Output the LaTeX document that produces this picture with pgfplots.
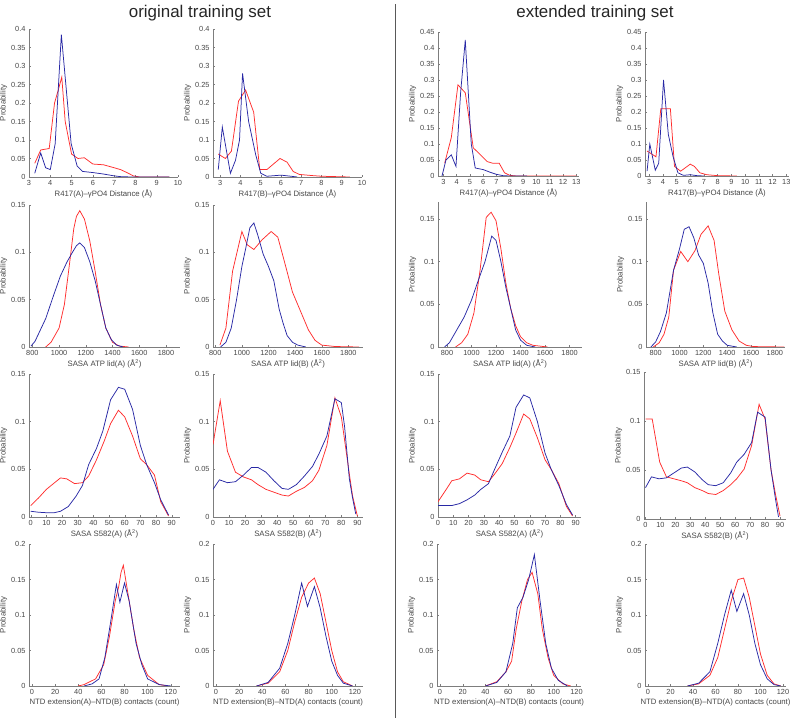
\documentclass[border=0pt]{standalone}
\usepackage{pgfplots}
\pgfplotsset{compat=1.18}
\usepackage{fontspec}
\setmainfont{Liberation Sans}
\definecolor{mblue}{RGB}{40,40,165}
\definecolor{mred}{RGB}{255,45,45}
\definecolor{axgray}{RGB}{125,125,125}
\definecolor{txtgray}{RGB}{70,70,70}
\pgfplotsset{
 panel/.style={
  scale only axis, anchor=south west,
  axis x line*=bottom, axis y line*=left,
  axis line style={-, draw=axgray, line width=0.5bp},
  tick style={draw=axgray, line width=0.4bp},
  tick align=inside, major tick length=2bp,
  ticklabel style={font=\fontsize{7.4}{8}\selectfont, text=txtgray},
  label style={font=\fontsize{7.8}{9}\selectfont, text=txtgray},
  ylabel={Probability},
  xlabel style={yshift=3bp},
  ylabel style={yshift=-3bp},
  scaled ticks=false,
  /pgf/number format/assume math mode=true,
  /pgf/number format/1000 sep={},
  yticklabel style={/pgf/number format/fixed, /pgf/number format/precision=2},
  ymin=0,
 },
 r1a/.style={panel, ymax=0.4, ytick={0,0.05,0.1,0.15,0.2,0.25,0.3,0.35,0.4}, xtick={3,...,10}, height=148bp},
 r1b/.style={panel, ymax=0.45, ytick={0,0.05,0.1,0.15,0.2,0.25,0.3,0.35,0.4,0.45}, xtick={3,...,13}, height=144bp},
 r2a/.style={panel, ymax=0.15, ytick={0,0.05,0.1,0.15}, xtick={800,1000,...,1800}, height=142bp},
 r2b/.style={panel, ymax=0.17, ytick={0,0.05,0.1,0.15}, xtick={800,1000,...,1800}, height=145bp},
 r3/.style={panel, ymax=0.15, ytick={0,0.05,0.1,0.15}, xtick={0,10,...,90}, height=143bp},
 r4/.style={panel, ymax=0.2, ytick={0,0.05,0.1,0.15,0.2}, xtick={0,20,...,120}, height=142bp},
 bl/.style={color=mblue, line width=0.75bp, no marks},
 rd/.style={color=mred, line width=0.75bp, no marks},
}
\begin{document}
\begin{tikzpicture}
\useasboundingbox (0bp,0bp) rectangle (791bp,721bp);
\node[font=\fontsize{17}{19}\selectfont, text=black!85] at (200bp,708bp) {original training set};
\node[font=\fontsize{17}{19}\selectfont, text=black!85] at (595bp,708bp) {extended training set};
\draw[color=black!65, line width=0.6bp] (395bp,3bp) -- (395bp,717bp);

% ---------- Row 1 ----------
\begin{axis}[r1a, at={(29bp,544bp)}, width=149bp, xmin=3, xmax=10, xlabel={R417(A)–γPO4 Distance (Å)}]
\addplot[rd] coordinates {(3.27,0.037)(3.55,0.073)(3.95,0.077)(4.2,0.2)(4.35,0.23)(4.54,0.27)(4.7,0.15)(5.0,0.062)(5.3,0.05)(5.6,0.052)(6.0,0.035)(6.5,0.033)(7.0,0.025)(7.3,0.02)(7.6,0.012)(7.9,0.003)(8.2,0)(9.6,0)};
\addplot[bl] coordinates {(3.27,0.01)(3.55,0.065)(3.78,0.025)(4.0,0.02)(4.23,0.09)(4.52,0.385)(4.98,0.09)(5.26,0.03)(5.52,0.015)(6.0,0.012)(6.5,0.008)(7.0,0.003)(7.3,0.001)(7.8,0)(9.6,0)};
\end{axis}
\begin{axis}[r1a, at={(213bp,544bp)}, width=149bp, xmin=2.64, xmax=10, xlabel={R417(B)–γPO4 Distance (Å)}]
\addplot[rd] coordinates {(2.9,0.062)(3.25,0.05)(3.55,0.07)(3.9,0.205)(4.25,0.235)(4.65,0.175)(4.95,0.02)(5.3,0.02)(5.95,0.05)(6.3,0.04)(6.6,0.015)(6.9,0.007)(7.5,0.004)(8.0,0.002)(9.4,0)};
\addplot[bl] coordinates {(2.9,0.02)(3.1,0.135)(3.5,0.01)(3.75,0.045)(3.95,0.1)(4.1,0.28)(4.4,0.15)(4.75,0.06)(5.0,0.01)(5.3,0.002)(6.0,0.005)(6.5,0.002)(6.8,0)};
\end{axis}
\begin{axis}[r1b, at={(438bp,545bp)}, width=141bp, xmin=2.6, xmax=13.2, xlabel={R417(A)–γPO4 Distance (Å)}]
\addplot[rd] coordinates {(3.1,0.04)(3.6,0.12)(4.1,0.285)(4.65,0.26)(5.0,0.16)(5.25,0.088)(5.7,0.07)(6.3,0.045)(6.7,0.04)(7.2,0.04)(7.6,0.01)(8.0,0.002)(8.5,0)(13,0)};
\addplot[bl] coordinates {(2.9,0)(3.2,0.05)(3.6,0.066)(3.95,0.03)(4.3,0.26)(4.65,0.425)(5.1,0.1)(5.4,0.025)(6.0,0.02)(6.5,0.012)(7.0,0.005)(7.5,0.001)(8.0,0)(9.3,0)};
\end{axis}
\begin{axis}[r1b, at={(645bp,545bp)}, width=144bp, xmin=2.7, xmax=13.2, xlabel={R417(B)–γPO4 Distance (Å)}]
\addplot[rd] coordinates {(2.85,0.078)(3.5,0.06)(3.85,0.21)(4.55,0.21)(4.85,0.03)(5.3,0.015)(6.0,0.037)(6.3,0.03)(6.7,0.01)(7.2,0.004)(8,0.001)(9.4,0)};
\addplot[bl] coordinates {(2.85,0.015)(3.05,0.1)(3.45,0.018)(3.7,0.04)(4.05,0.3)(4.4,0.13)(4.75,0.06)(5.1,0.01)(5.5,0.002)(6.0,0.004)(6.5,0.001)(7.0,0)};
\end{axis}

% ---------- Row 2 ----------
\begin{axis}[r2a, at={(29bp,374bp)}, width=151bp, xmin=775, xmax=1905, xlabel={SASA ATP lid(A) (Å\textsuperscript{2})}]
\addplot[rd] coordinates {(900,0)(940,0.005)(1000,0.02)(1040,0.045)(1080,0.09)(1110,0.125)(1130,0.138)(1155,0.144)(1190,0.135)(1230,0.112)(1270,0.08)(1310,0.045)(1350,0.02)(1400,0.005)(1450,0.001)(1520,0)};
\addplot[bl] coordinates {(790,0.001)(820,0.006)(900,0.03)(960,0.055)(1010,0.075)(1060,0.09)(1100,0.1)(1130,0.107)(1155,0.11)(1190,0.105)(1230,0.09)(1270,0.07)(1310,0.045)(1350,0.02)(1390,0.008)(1430,0.002)(1480,0)};
\end{axis}
\begin{axis}[r2a, at={(213bp,374bp)}, width=150bp, xmin=783, xmax=1910, xlabel={SASA ATP lid(B) (Å\textsuperscript{2})}]
\addplot[rd] coordinates {(835,0.002)(880,0.02)(930,0.08)(1000,0.122)(1040,0.108)(1090,0.103)(1150,0.113)(1220,0.122)(1270,0.116)(1320,0.09)(1380,0.058)(1440,0.038)(1500,0.018)(1550,0.007)(1600,0.002)(1700,0.0005)(1880,0)};
\addplot[bl] coordinates {(840,0)(880,0.005)(920,0.02)(960,0.05)(1000,0.085)(1030,0.105)(1060,0.126)(1090,0.131)(1120,0.118)(1160,0.098)(1200,0.085)(1240,0.07)(1280,0.04)(1310,0.025)(1340,0.012)(1380,0.005)(1420,0.002)(1480,0)};
\end{axis}
\begin{axis}[r2b, at={(438bp,374bp)}, width=144bp, xmin=727, xmax=1901, xlabel={SASA ATP lid(A) (Å\textsuperscript{2})}]
\addplot[rd] coordinates {(870,0)(920,0.005)(970,0.015)(1020,0.04)(1070,0.09)(1120,0.152)(1160,0.158)(1200,0.148)(1240,0.115)(1280,0.075)(1320,0.045)(1360,0.025)(1400,0.012)(1450,0.005)(1500,0.002)(1620,0)};
\addplot[bl] coordinates {(780,0)(820,0.005)(880,0.02)(940,0.035)(1000,0.055)(1060,0.08)(1110,0.1)(1165,0.13)(1200,0.125)(1240,0.1)(1280,0.07)(1320,0.045)(1360,0.02)(1400,0.008)(1450,0.002)(1520,0)};
\end{axis}
\begin{axis}[r2b, at={(646bp,374bp)}, width=139bp, xmin=719, xmax=1885, xlabel={SASA ATP lid(B) (Å\textsuperscript{2})}]
\addplot[rd] coordinates {(780,0)(830,0.005)(870,0.015)(910,0.035)(950,0.09)(1010,0.112)(1070,0.1)(1130,0.113)(1180,0.132)(1240,0.142)(1290,0.125)(1330,0.085)(1380,0.042)(1440,0.02)(1500,0.007)(1560,0.002)(1620,0.0005)(1880,0)};
\addplot[bl] coordinates {(760,0)(800,0.006)(840,0.018)(890,0.04)(950,0.09)(1000,0.115)(1040,0.138)(1080,0.141)(1120,0.128)(1160,0.108)(1200,0.098)(1240,0.075)(1280,0.04)(1320,0.015)(1360,0.007)(1400,0.002)(1480,0)};
\end{axis}

% ---------- Row 3 ----------
\begin{axis}[r3, at={(29bp,204bp)}, width=151bp, xmin=-1.1, xmax=95.3, xlabel={SASA S582(A) (Å\textsuperscript{2})}]
\addplot[rd] coordinates {(0,0.012)(5,0.02)(10,0.029)(19,0.041)(23,0.04)(28,0.035)(33,0.036)(37,0.043)(42,0.06)(47,0.08)(51,0.098)(56,0.112)(60,0.105)(65,0.085)(70,0.061)(74,0.055)(79,0.044)(83,0.016)(88,0.001)};
\addplot[bl] coordinates {(0,0.006)(5,0.005)(10,0.0045)(15,0.0045)(19,0.006)(24,0.011)(29,0.022)(33,0.033)(37,0.055)(42,0.072)(46,0.09)(51,0.123)(56,0.136)(60,0.134)(65,0.113)(70,0.075)(74,0.055)(79,0.036)(83,0.018)(88,0.002)};
\end{axis}
\begin{axis}[r3, at={(213bp,204bp)}, width=150bp, xmin=0, xmax=93.5, xlabel={SASA S582(B) (Å\textsuperscript{2})}]
\addplot[rd] coordinates {(0,0.076)(4.5,0.122)(9,0.069)(14,0.047)(19,0.042)(24,0.039)(28,0.034)(33,0.029)(38,0.026)(43,0.023)(47,0.022)(52,0.027)(57,0.031)(62,0.038)(66,0.049)(71,0.075)(76,0.125)(80,0.105)(85,0.045)(87,0.022)(90,0.001)};
\addplot[bl] coordinates {(0,0.029)(4,0.039)(9,0.036)(14,0.037)(19,0.044)(24,0.052)(28,0.052)(33,0.047)(38,0.038)(43,0.03)(47,0.029)(52,0.034)(57,0.043)(62,0.053)(66,0.066)(71,0.085)(76,0.124)(80,0.12)(82,0.095)(85,0.04)(87,0.02)(89,0.003)};
\end{axis}
\begin{axis}[r3, at={(438bp,204bp)}, width=143bp, xmin=0, xmax=93.5, xlabel={SASA S582(A) (Å\textsuperscript{2})}]
\addplot[rd] coordinates {(0,0.016)(5,0.028)(9,0.038)(14,0.04)(19,0.046)(24,0.044)(28,0.039)(33,0.037)(37,0.045)(42,0.056)(47,0.073)(51,0.088)(56,0.108)(60,0.103)(65,0.083)(70,0.06)(74,0.05)(79,0.035)(84,0.011)(88,0.001)};
\addplot[bl] coordinates {(0,0.012)(9,0.012)(14,0.014)(19,0.018)(24,0.023)(28,0.029)(33,0.035)(37,0.05)(42,0.068)(47,0.085)(51,0.115)(56,0.128)(60,0.125)(65,0.1)(70,0.067)(74,0.05)(79,0.033)(84,0.013)(88,0.002)};
\end{axis}
\begin{axis}[r3, at={(644bp,202bp)}, width=142bp, height=147bp, xmin=-1, xmax=94, xlabel={SASA S582(B) (Å\textsuperscript{2})}]
\addplot[rd] coordinates {(0,0.102)(4.5,0.102)(9.5,0.058)(14,0.043)(19,0.041)(24,0.039)(28,0.037)(33,0.032)(38,0.029)(42,0.026)(47,0.025)(52,0.029)(57,0.035)(61,0.041)(66,0.051)(71,0.075)(76,0.117)(80,0.102)(84,0.05)(87,0.025)(90,0.003)};
\addplot[bl] coordinates {(0,0.032)(4,0.043)(9,0.041)(14,0.042)(19,0.047)(24,0.052)(28,0.053)(33,0.048)(38,0.04)(42,0.035)(47,0.034)(52,0.037)(57,0.047)(61,0.058)(66,0.066)(71,0.078)(75,0.109)(80,0.104)(84,0.05)(87,0.02)(89,0.002)};
\end{axis}

% ---------- Row 4 ----------
\begin{axis}[r4, at={(29bp,35bp)}, width=151bp, xmin=-2.6, xmax=128, xlabel={NTD extension(A)–NTD(B) contacts (count)}]
\addplot[rd] coordinates {(40,0)(45,0.002)(55,0.01)(62,0.03)(67,0.07)(72,0.12)(75,0.14)(77,0.16)(79,0.17)(83,0.13)(88,0.08)(93,0.04)(100,0.015)(110,0.002)(118,0)};
\addplot[bl] coordinates {(45,0)(52,0.003)(58,0.01)(63,0.04)(68,0.09)(73,0.143)(76,0.118)(80,0.145)(84,0.12)(90,0.06)(95,0.03)(100,0.01)(110,0.002)(120,0)};
\end{axis}
\begin{axis}[r4, at={(213bp,35bp)}, width=150bp, xmin=-2.6, xmax=127, xlabel={NTD extension(B)–NTD(A) contacts (count)}]
\addplot[rd] coordinates {(35,0)(45,0.004)(55,0.02)(62,0.05)(68,0.09)(74,0.125)(80,0.145)(85,0.152)(90,0.13)(95,0.09)(100,0.05)(105,0.02)(110,0.006)(118,0)};
\addplot[bl] coordinates {(35,0)(45,0.005)(55,0.025)(62,0.06)(68,0.1)(74,0.145)(79,0.112)(85,0.14)(90,0.11)(95,0.07)(100,0.035)(105,0.015)(110,0.004)(118,0)};
\end{axis}
\begin{axis}[r4, at={(437bp,35bp)}, width=144bp, xmin=-2.6, xmax=124, xlabel={NTD extension(A)–NTD(B) contacts (count)}]
\addplot[rd] coordinates {(40,0)(50,0.006)(58,0.02)(63,0.035)(67,0.08)(72,0.12)(77,0.15)(81,0.16)(86,0.13)(90,0.08)(95,0.04)(100,0.015)(108,0.003)(115,0)};
\addplot[bl] coordinates {(40,0)(50,0.005)(58,0.02)(64,0.06)(68,0.11)(73,0.125)(78,0.15)(83,0.185)(88,0.12)(93,0.06)(98,0.025)(104,0.008)(112,0)};
\end{axis}
\begin{axis}[r4, at={(645bp,35bp)}, width=141bp, xmin=-2.7, xmax=122.7, xlabel={NTD extension(B)–NTD(A) contacts (count)}]
\addplot[rd] coordinates {(35,0)(45,0.003)(55,0.015)(62,0.04)(68,0.08)(74,0.12)(80,0.15)(85,0.152)(90,0.125)(95,0.085)(100,0.045)(106,0.015)(112,0.003)(118,0)};
\addplot[bl] coordinates {(35,0)(45,0.004)(55,0.02)(62,0.06)(68,0.1)(74,0.135)(79,0.105)(85,0.13)(90,0.1)(95,0.06)(100,0.03)(106,0.01)(112,0.002)(118,0)};
\end{axis}
\end{tikzpicture}
\end{document}
